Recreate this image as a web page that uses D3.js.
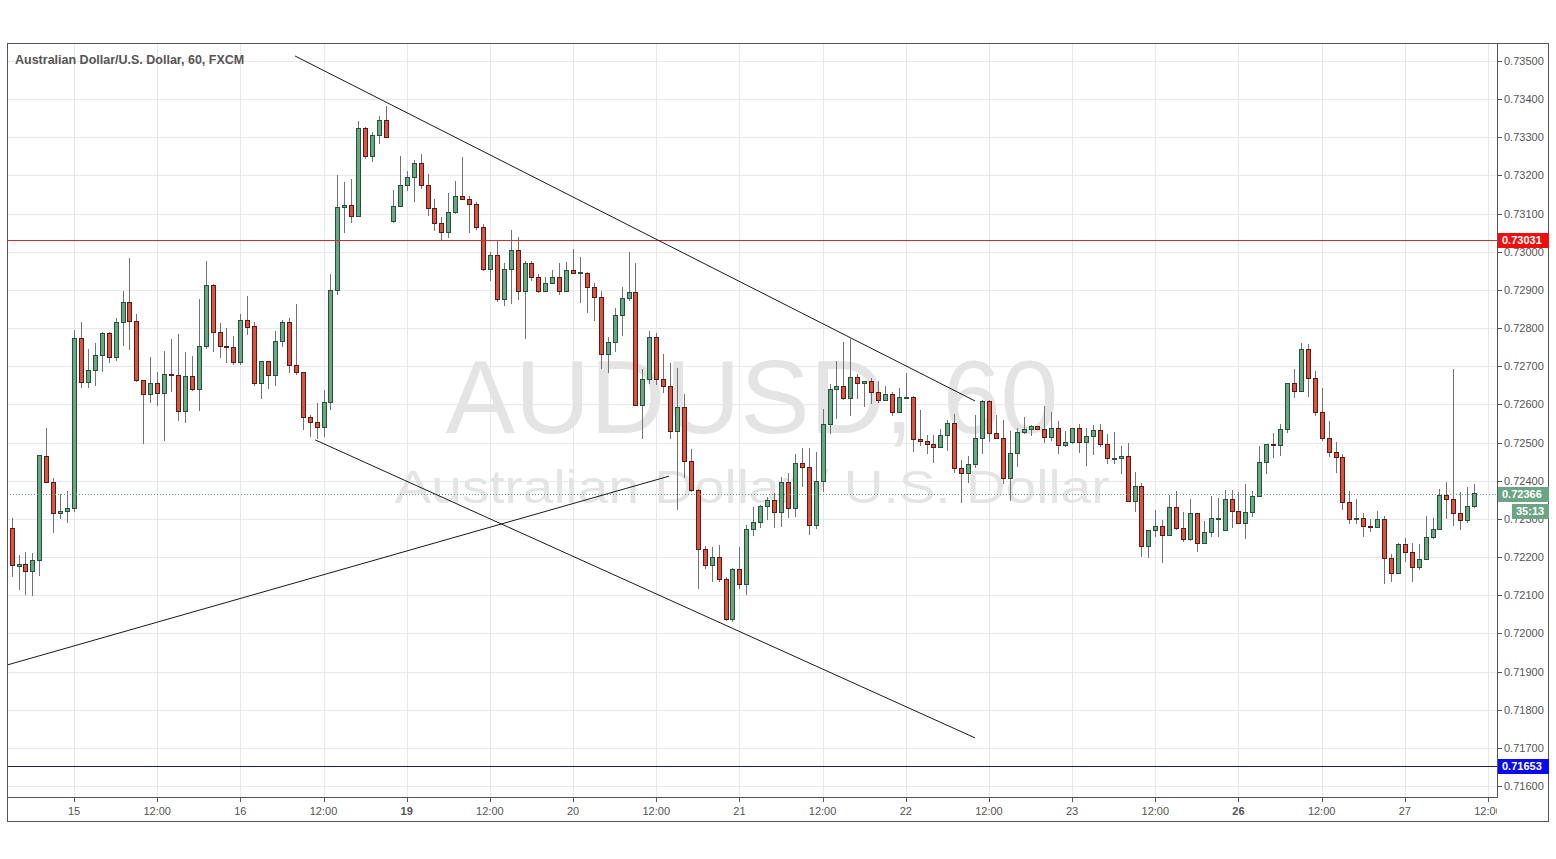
<!DOCTYPE html>
<html><head><meta charset="utf-8">
<script src="https://cdn.jsdelivr.net/npm/d3@7"></script>
<style>html,body{margin:0;padding:0;background:#fff;overflow:hidden}svg{display:block;font-family:"Liberation Sans",Arial,sans-serif}</style>
</head><body>
<svg id="chart" width="1556" height="859"></svg>
<script>
// ---- DATA (AUDUSD, 60 min, FXCM) ----
const opens=[0.72276,0.72177,0.72183,0.72164,0.72192,0.72466,0.72396,0.72316,0.72321,0.72328,
0.72775,0.72660,0.72691,0.72730,0.72787,0.72724,0.72815,0.72869,0.72819,0.72665,
0.72626,0.72657,0.72630,0.72681,0.72677,0.72583,0.72674,0.72641,0.72754,0.72913,
0.72791,0.72752,0.72750,0.72712,0.72821,0.72806,0.72656,0.72715,0.72676,0.72765,
0.72816,0.72702,0.72684,0.72566,0.72554,0.72542,0.72606,0.72900,0.73117,0.73122,
0.73095,0.73324,0.73250,0.73306,0.73345,0.73081,0.73120,0.73175,0.73196,0.73232,
0.73175,0.73114,0.73075,0.73053,0.73104,0.73145,0.73138,0.73125,0.73065,0.72955,
0.72992,0.72876,0.72954,0.73005,0.72897,0.72970,0.72933,0.72896,0.72917,0.72933,
0.72896,0.72951,0.72944,0.72945,0.72907,0.72881,0.72731,0.72763,0.72834,0.72878,
0.72895,0.72599,0.72666,0.72776,0.72666,0.72647,0.72530,0.72592,0.72451,0.72375,
0.72220,0.72178,0.72199,0.72142,0.72037,0.72168,0.72129,0.72274,0.72291,0.72334,
0.72350,0.72317,0.72396,0.72328,0.72446,0.72437,0.72284,0.72399,0.72548,0.72640,
0.72647,0.72616,0.72673,0.72655,0.72661,0.72632,0.72611,0.72626,0.72579,0.72619,
0.72620,0.72509,0.72505,0.72495,0.72488,0.72519,0.72550,0.72433,0.72419,0.72443,
0.72511,0.72609,0.72524,0.72511,0.72406,0.72472,0.72527,0.72535,0.72543,0.72535,
0.72514,0.72537,0.72494,0.72501,0.72537,0.72501,0.72517,0.72532,0.72495,0.72459,
0.72459,0.72466,0.72346,0.72385,0.72229,0.72270,0.72281,0.72258,0.72332,0.72277,
0.72247,0.72316,0.72236,0.72265,0.72302,0.72270,0.72351,0.72322,0.72288,0.72317,
0.72359,0.72448,0.72495,0.72493,0.72535,0.72655,0.72634,0.72744,0.72668,0.72579,
0.72511,0.72474,0.72461,0.72343,0.72299,0.72302,0.72281,0.72278,0.72299,0.72197,
0.72157,0.72233,0.72212,0.72173,0.72194,0.72252,0.72273,0.72362,0.72351,0.72315,
0.72296,0.72333];
const highs=[0.72302,0.72206,0.72214,0.72211,0.72468,0.72539,0.72408,0.72365,0.72372,0.72794,
0.72817,0.72744,0.72762,0.72791,0.72791,0.72826,0.72896,0.72983,0.72836,0.72665,
0.72723,0.72686,0.72740,0.72771,0.72785,0.72737,0.72726,0.72876,0.72977,0.72915,
0.72813,0.72799,0.72780,0.72838,0.72883,0.72817,0.72715,0.72715,0.72793,0.72822,
0.72826,0.72863,0.72684,0.72571,0.72603,0.72638,0.72942,0.73202,0.73183,0.73191,
0.73343,0.73326,0.73315,0.73355,0.73383,0.73162,0.73252,0.73212,0.73241,0.73257,
0.73204,0.73139,0.73090,0.73154,0.73186,0.73248,0.73147,0.73130,0.73072,0.72999,
0.73031,0.72970,0.73057,0.73038,0.72977,0.72975,0.72941,0.72933,0.72952,0.72970,
0.72972,0.73007,0.72987,0.72948,0.72917,0.72897,0.72776,0.72854,0.72909,0.73000,
0.72970,0.72692,0.72792,0.72786,0.72732,0.72708,0.72696,0.72627,0.72482,0.72378,
0.72229,0.72226,0.72232,0.72149,0.72170,0.72226,0.72284,0.72332,0.72336,0.72358,
0.72369,0.72411,0.72419,0.72470,0.72485,0.72485,0.72476,0.72587,0.72653,0.72714,
0.72763,0.72771,0.72681,0.72661,0.72670,0.72661,0.72648,0.72633,0.72642,0.72683,
0.72621,0.72585,0.72520,0.72520,0.72536,0.72559,0.72575,0.72454,0.72465,0.72572,
0.72612,0.72612,0.72572,0.72559,0.72530,0.72537,0.72566,0.72546,0.72543,0.72596,
0.72579,0.72557,0.72531,0.72539,0.72549,0.72539,0.72546,0.72549,0.72522,0.72527,
0.72491,0.72500,0.72422,0.72395,0.72270,0.72323,0.72297,0.72363,0.72373,0.72319,
0.72352,0.72316,0.72295,0.72360,0.72354,0.72376,0.72376,0.72371,0.72392,0.72373,
0.72491,0.72495,0.72526,0.72549,0.72655,0.72693,0.72762,0.72759,0.72688,0.72642,
0.72557,0.72502,0.72470,0.72373,0.72351,0.72316,0.72299,0.72321,0.72308,0.72207,
0.72236,0.72249,0.72236,0.72233,0.72308,0.72303,0.72378,0.72396,0.72692,0.72370,
0.72383,0.72392];
const lows=[0.72150,0.72117,0.72103,0.72101,0.72153,0.72396,0.72265,0.72303,0.72291,0.72320,
0.72646,0.72646,0.72651,0.72688,0.72712,0.72716,0.72756,0.72744,0.72662,0.72499,
0.72607,0.72599,0.72508,0.72635,0.72560,0.72553,0.72637,0.72585,0.72747,0.72740,
0.72723,0.72710,0.72707,0.72707,0.72785,0.72650,0.72617,0.72643,0.72651,0.72754,
0.72684,0.72680,0.72536,0.72516,0.72512,0.72516,0.72588,0.72890,0.73053,0.73079,
0.73095,0.73245,0.73237,0.73285,0.73300,0.73079,0.73120,0.73162,0.73132,0.73167,
0.73097,0.73056,0.73030,0.73038,0.73101,0.73138,0.73053,0.73059,0.72953,0.72927,
0.72870,0.72861,0.72867,0.72876,0.72775,0.72926,0.72894,0.72896,0.72917,0.72889,
0.72896,0.72944,0.72869,0.72841,0.72820,0.72696,0.72686,0.72741,0.72782,0.72874,
0.72599,0.72513,0.72657,0.72653,0.72633,0.72513,0.72325,0.72409,0.72372,0.72118,
0.72172,0.72138,0.72138,0.72035,0.72032,0.72120,0.72102,0.72258,0.72278,0.72299,
0.72278,0.72281,0.72304,0.72308,0.72385,0.72260,0.72275,0.72374,0.72526,0.72565,
0.72614,0.72572,0.72616,0.72597,0.72605,0.72606,0.72611,0.72571,0.72579,0.72617,
0.72479,0.72494,0.72472,0.72450,0.72488,0.72481,0.72424,0.72343,0.72398,0.72436,
0.72472,0.72505,0.72511,0.72395,0.72350,0.72439,0.72524,0.72520,0.72535,0.72502,
0.72507,0.72472,0.72491,0.72498,0.72474,0.72441,0.72470,0.72491,0.72446,0.72446,
0.72421,0.72346,0.72322,0.72204,0.72201,0.72255,0.72188,0.72258,0.72274,0.72243,
0.72244,0.72217,0.72236,0.72256,0.72254,0.72270,0.72280,0.72288,0.72249,0.72308,
0.72359,0.72421,0.72461,0.72467,0.72529,0.72620,0.72634,0.72622,0.72572,0.72507,
0.72466,0.72424,0.72325,0.72290,0.72290,0.72256,0.72267,0.72278,0.72131,0.72136,
0.72157,0.72190,0.72136,0.72169,0.72194,0.72249,0.72273,0.72303,0.72284,0.72274,
0.72291,0.72330];
const closes=[0.72178,0.72183,0.72164,0.72192,0.72467,0.72396,0.72316,0.72321,0.72328,0.72775,
0.72660,0.72691,0.72730,0.72787,0.72724,0.72815,0.72869,0.72819,0.72665,0.72626,
0.72657,0.72630,0.72681,0.72677,0.72583,0.72674,0.72641,0.72754,0.72913,0.72791,
0.72752,0.72750,0.72712,0.72821,0.72803,0.72656,0.72715,0.72676,0.72765,0.72816,
0.72702,0.72684,0.72566,0.72554,0.72542,0.72606,0.72900,0.73117,0.73122,0.73095,
0.73324,0.73250,0.73306,0.73345,0.73300,0.73120,0.73175,0.73196,0.73232,0.73175,
0.73114,0.73075,0.73053,0.73104,0.73145,0.73138,0.73125,0.73065,0.72955,0.72992,
0.72876,0.72954,0.73005,0.72897,0.72970,0.72933,0.72896,0.72917,0.72933,0.72896,
0.72951,0.72944,0.72946,0.72907,0.72881,0.72731,0.72763,0.72834,0.72878,0.72895,
0.72599,0.72666,0.72776,0.72666,0.72647,0.72530,0.72592,0.72451,0.72375,0.72220,
0.72178,0.72199,0.72142,0.72037,0.72168,0.72129,0.72274,0.72291,0.72334,0.72350,
0.72317,0.72396,0.72328,0.72446,0.72437,0.72284,0.72399,0.72548,0.72640,0.72647,
0.72616,0.72673,0.72655,0.72661,0.72632,0.72611,0.72626,0.72579,0.72619,0.72620,
0.72509,0.72505,0.72495,0.72488,0.72519,0.72550,0.72433,0.72419,0.72443,0.72511,
0.72609,0.72524,0.72511,0.72406,0.72472,0.72527,0.72535,0.72543,0.72535,0.72514,
0.72537,0.72494,0.72501,0.72537,0.72501,0.72517,0.72532,0.72495,0.72459,0.72459,
0.72466,0.72346,0.72385,0.72229,0.72270,0.72281,0.72258,0.72332,0.72277,0.72247,
0.72316,0.72236,0.72265,0.72302,0.72302,0.72351,0.72322,0.72288,0.72317,0.72359,
0.72448,0.72495,0.72493,0.72535,0.72655,0.72634,0.72744,0.72668,0.72579,0.72511,
0.72474,0.72461,0.72343,0.72299,0.72302,0.72281,0.72278,0.72299,0.72197,0.72157,
0.72233,0.72212,0.72173,0.72194,0.72252,0.72273,0.72362,0.72351,0.72315,0.72296,
0.72333,0.72367];

// time axis: bar index of each label and its text (hourly bars)
const timeTickIndex=[9,21,33,45,57,69,81,93,105,117,129,141,153,165,177,189,201,213];
const timeTickLabels=["15","12:00","16","12:00","19","12:00","20","12:00","21","12:00","22","12:00","23","12:00","26","12:00","27","12:00"];
const boldTimeLabels=["19","26"];
const priceTicks=[0.716,0.717,0.718,0.719,0.720,0.721,0.722,0.723,0.724,0.725,0.726,0.727,0.728,0.729,0.730,0.731,0.732,0.733,0.734,0.735];

// drawn levels and trend lines [barIndex, price]
const resistanceLevel=0.73031;
const supportLevel=0.71653;
const lastPrice=0.72366;
const countdown="35:13";
const trendLines=[
  [[40.9,0.73513],[139.0,0.72609]],
  [[43.8,0.72507],[139.0,0.71726]],
  [[-0.67,0.71917],[94.85,0.72412]]
];
const title="Australian Dollar/U.S. Dollar, 60, FXCM";
const watermark1="AUDUSD, 60";
const watermark2="Australian Dollar / U.S. Dollar";

// ---- LAYOUT ----
const L=7,R=1497,T=43,B=797,OR=1549,OB=822;
const svg=d3.select("#chart");
const x=d3.scaleLinear().domain([9,213]).range([74,1488]);
const y=d3.scaleLinear().domain([0.716,0.735]).range([786,61]);

svg.append("defs").append("clipPath").attr("id","plot")
  .append("rect").attr("x",L).attr("y",T).attr("width",R-L).attr("height",B-T);
svg.append("defs").append("clipPath").attr("id","taxis")
  .append("rect").attr("x",L).attr("y",B).attr("width",R-L).attr("height",OB-B);

svg.append("rect").attr("width",1556).attr("height",859).attr("fill","#fff");

const plot=svg.append("g").attr("clip-path","url(#plot)");
// grid
plot.append("g").selectAll("line").data(timeTickIndex).join("line")
  .attr("x1",d=>Math.round(x(d))+0.5).attr("x2",d=>Math.round(x(d))+0.5)
  .attr("y1",T).attr("y2",B).attr("stroke","#e8e8e8").attr("stroke-width",1);
plot.append("g").selectAll("line").data(priceTicks).join("line")
  .attr("x1",L).attr("x2",R)
  .attr("y1",d=>Math.round(y(d))+0.5).attr("y2",d=>Math.round(y(d))+0.5)
  .attr("stroke","#e8e8e8").attr("stroke-width",1);

// watermark
const cx=(L+R)/2;
plot.append("text").attr("x",cx).attr("y",433).attr("text-anchor","middle")
  .attr("font-size",104).attr("fill","#e4e4e4").text(watermark1);
plot.append("text").attr("x",cx).attr("y",503).attr("text-anchor","middle")
  .attr("font-size",47).attr("fill","#e4e4e4")
  .attr("textLength",715).attr("lengthAdjust","spacingAndGlyphs").text(watermark2);

// candles
const bars=d3.range(opens.length).map(i=>({i,o:opens[i],h:Math.max(highs[i],opens[i],closes[i]),l:Math.min(lows[i],opens[i],closes[i]),c:closes[i]}));
const cg=plot.append("g");
cg.selectAll("line").data(bars).join("line")
  .attr("x1",d=>Math.round(x(d.i))+0.5).attr("x2",d=>Math.round(x(d.i))+0.5)
  .attr("y1",d=>Math.round(y(d.h))).attr("y2",d=>Math.round(y(d.l))+1)
  .attr("stroke","#737375").attr("stroke-width",1);
cg.selectAll("rect").data(bars).join("rect")
  .attr("x",d=>Math.round(x(d.i))-1.5).attr("width",4)
  .attr("y",d=>Math.round(y(Math.max(d.o,d.c)))+0.5)
  .attr("height",d=>Math.max(1,Math.round(y(Math.min(d.o,d.c)))-Math.round(y(Math.max(d.o,d.c)))))
  .attr("fill",d=>d.c>=d.o?"#6ba583":"#d75442")
  .attr("stroke",d=>d.c>=d.o?"#225437":"#5b1a13").attr("stroke-width",1);

// horizontal levels
plot.append("line").attr("x1",L).attr("x2",R)
  .attr("y1",Math.round(y(resistanceLevel))+0.5).attr("y2",Math.round(y(resistanceLevel))+0.5)
  .attr("stroke","#d32f2f").attr("stroke-width",1);
plot.append("line").attr("x1",L).attr("x2",R)
  .attr("y1",Math.round(y(supportLevel))+0.5).attr("y2",Math.round(y(supportLevel))+0.5)
  .attr("stroke","#1c1c5e").attr("stroke-width",1);
plot.append("line").attr("x1",L).attr("x2",R)
  .attr("y1",Math.round(y(lastPrice))+0.5).attr("y2",Math.round(y(lastPrice))+0.5)
  .attr("stroke","#5b9a77").attr("stroke-width",1).attr("stroke-dasharray","1,2");

// trend lines
plot.append("g").selectAll("line").data(trendLines).join("line")
  .attr("x1",d=>x(d[0][0])).attr("y1",d=>y(d[0][1]))
  .attr("x2",d=>x(d[1][0])).attr("y2",d=>y(d[1][1]))
  .attr("stroke","#1a1a1a").attr("stroke-width",1);

// title
svg.append("text").attr("x",15).attr("y",64).attr("font-size",12.5).attr("font-weight","bold")
  .attr("fill","#555").text(title);

// frame
svg.append("rect").attr("x",L+0.5).attr("y",T+0.5).attr("width",OR-L-1).attr("height",OB-T-1)
  .attr("fill","none").attr("stroke","#555");
svg.append("line").attr("x1",R+0.5).attr("x2",R+0.5).attr("y1",T).attr("y2",B+1).attr("stroke","#555");
svg.append("line").attr("x1",L).attr("x2",R+1).attr("y1",B+0.5).attr("y2",B+0.5).attr("stroke","#555");

// price axis (labels hidden under a price tag are skipped, as the tag covers them)
const tagYs=[resistanceLevel,supportLevel,lastPrice].map(p=>Math.round(y(p))).concat([Math.round(y(lastPrice))+17]);
const pa=svg.append("g");
pa.selectAll("line").data(priceTicks).join("line")
  .attr("x1",R+1).attr("x2",R+5).attr("y1",d=>Math.round(y(d))+0.5).attr("y2",d=>Math.round(y(d))+0.5)
  .attr("stroke","#555");
pa.selectAll("text").data(priceTicks.filter(d=>!tagYs.some(t=>Math.abs(t-y(d))<7))).join("text")
  .attr("x",R+7).attr("y",d=>y(d)+4).attr("font-size",11).attr("fill","#555")
  .text(d=>d.toFixed(5));

// time axis
const ta=svg.append("g").attr("clip-path","url(#taxis)");
ta.selectAll("line").data(timeTickIndex).join("line")
  .attr("x1",d=>Math.round(x(d))+0.5).attr("x2",d=>Math.round(x(d))+0.5)
  .attr("y1",B+1).attr("y2",B+5).attr("stroke","#555");
ta.selectAll("text").data(timeTickIndex).join("text")
  .attr("x",d=>x(d)).attr("y",B+18).attr("text-anchor","middle").attr("font-size",11)
  .attr("fill","#555")
  .attr("font-weight",(d,k)=>boldTimeLabels.includes(timeTickLabels[k])?"bold":"normal")
  .text((d,k)=>timeTickLabels[k]);

// price labels
function tag(bg,txt,x0,yc,w){
  svg.append("rect").attr("x",x0).attr("y",yc-7).attr("width",w).attr("height",15).attr("fill",bg);
  svg.append("text").attr("x",x0+4).attr("y",yc+4).attr("font-size",11).attr("font-weight","bold")
    .attr("fill","#fff").text(txt);
}
tag("#f20d0d",resistanceLevel.toFixed(5),R+1,Math.round(y(resistanceLevel)),OR-R-1);
tag("#0a0af0",supportLevel.toFixed(5),R+1,Math.round(y(supportLevel)),OR-R-1);
tag("#6ba583",lastPrice.toFixed(5),R+1,Math.round(y(lastPrice)),OR-R-1);
tag("#6ba583",countdown,R+15,Math.round(y(lastPrice))+17,OR-R-15);
</script>
</body></html>
